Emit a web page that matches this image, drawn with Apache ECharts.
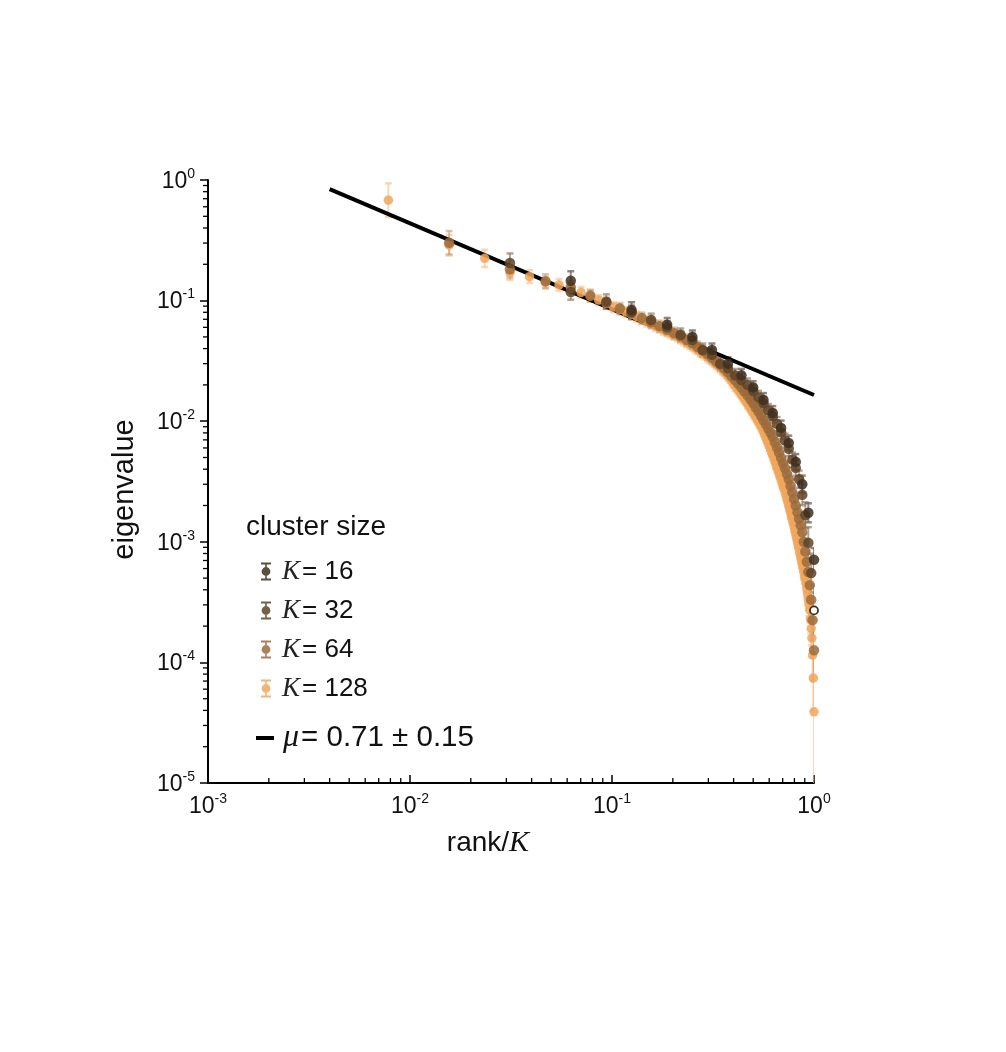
<!DOCTYPE html>
<html><head><meta charset="utf-8">
<script src="https://cdn.jsdelivr.net/npm/echarts@6/dist/echarts.min.js"></script>
<style>html,body{margin:0;padding:0;background:#fff}#c{width:1006px;height:1052px}</style>
</head><body><div id="c"></div>
<script>
// ---------------- data ----------------
// eigenvalues, ordered by rank (rank 1..K), x = rank/K
const K16 = [0.146, 0.0836, 0.063, 0.050, 0.039, 0.030, 0.024, 0.019, 0.015, 0.0117, 0.0088, 0.0066, 0.0046, 0.0030, 0.00174, 0.00071];
const K32 = [0.205, 0.118, 0.098, 0.080, 0.069, 0.060, 0.052, 0.047, 0.039, 0.0355, 0.030, 0.0275, 0.024, 0.0219, 0.020, 0.0178,
             0.0158, 0.0141, 0.0123, 0.0110, 0.0095, 0.0081, 0.0069, 0.0059, 0.0048, 0.0041, 0.0033, 0.00245, 0.00166, 0.00098, 0.00055, 0.00027];
const K64 = [0.302, 0.182, 0.145, 0.129, 0.110, 0.0955, 0.0861, 0.0785, 0.0716, 0.0661,
             0.0614, 0.0573, 0.0537, 0.0504, 0.0471, 0.0442, 0.0412, 0.0385, 0.0360, 0.0336,
             0.0313, 0.0292, 0.0273, 0.0254, 0.0236, 0.0219, 0.0204, 0.0190, 0.0176, 0.0164,
             0.0152, 0.0141, 0.0130, 0.0120, 0.0111, 0.0102, 0.00944, 0.00871, 0.00804, 0.00741,
             0.00670, 0.00605, 0.00550, 0.00495, 0.00447, 0.00407, 0.00367, 0.00331, 0.00292, 0.00257,
             0.00226, 0.00200, 0.00176, 0.00155, 0.00137, 0.00120, 0.00100, 0.000832, 0.000684, 0.000562,
             0.000437, 0.000331, 0.000224, 0.000126];
const K128 = [0.68, 0.288, 0.224, 0.170, 0.158, 0.141, 0.135, 0.126, 0.117, 0.109,
              0.101, 0.0944, 0.0883, 0.0843, 0.0805, 0.0769, 0.0736, 0.0703, 0.0671, 0.0641,
              0.0617, 0.0596, 0.0575, 0.0556, 0.0537, 0.0520, 0.0509, 0.0485, 0.0469, 0.0453,
              0.0438, 0.0423, 0.0408, 0.0394, 0.0377, 0.0368, 0.0356, 0.0344, 0.0332, 0.0321,
              0.0310, 0.0299, 0.0292, 0.0279, 0.0269, 0.0260, 0.0250, 0.0239, 0.0229, 0.0219,
              0.0209, 0.0197, 0.0191, 0.0183, 0.0175, 0.0167, 0.0160, 0.0153, 0.0149, 0.0140,
              0.0135, 0.0129, 0.0124, 0.0118, 0.01135, 0.01086, 0.01042, 0.00998, 0.00957, 0.00905,
              0.00873, 0.00824, 0.00780, 0.00736, 0.00695, 0.00664, 0.00621, 0.00587, 0.00555, 0.00524,
              0.00495, 0.00468, 0.00442, 0.00412, 0.00393, 0.00371, 0.00349, 0.00330, 0.00310, 0.00293,
              0.00277, 0.00265, 0.00244, 0.00229, 0.00214, 0.00200, 0.00187, 0.00176, 0.00161, 0.00154,
              0.00144, 0.00134, 0.00124, 0.00116, 0.00108, 0.00100, 0.000931, 0.000880, 0.000805, 0.000750,
              0.000698, 0.000650, 0.000604, 0.000562, 0.000517, 0.000488, 0.000453, 0.000409, 0.000370, 0.000333,
              0.000301, 0.000272, 0.000229, 0.000191, 0.000159, 0.000115, 0.0000741, 0.0000389];

// error bars: multiplicative spread (lower = v / f, upper = v * f)
const errK16 = [1.20, 1.16, 1.14, 1.13, 1.13, 1.13, 1.13, 1.13, 1.14, 1.14, 1.15, 1.15, 1.16, 1.18, 1.20, 1.25];
const errK32 = [1.20, 1.16, 1.15, 1.14, 1.13, 1.13, 1.13, 1.13, 1.13, 1.13, 1.13, 1.13, 1.13, 1.13, 1.13, 1.13,
                1.13, 1.13, 1.13, 1.13, 1.14, 1.14, 1.14, 1.15, 1.15, 1.16, 1.18, 1.22, 1.28, 1.35, 1.45, 1.60];
const errK64 = [1.25, 1.18, 1.14, 1.12, 1.12, 1.11, 1.11, 1.11, 1.11, 1.11, 1.11, 1.11, 1.11, 1.11, 1.11, 1.11,
                1.11, 1.11, 1.11, 1.11, 1.11, 1.11, 1.11, 1.11, 1.11, 1.11, 1.11, 1.11, 1.11, 1.11, 1.11, 1.11,
                1.11, 1.11, 1.11, 1.11, 1.11, 1.11, 1.11, 1.11, 1.11, 1.11, 1.11, 1.12, 1.12, 1.12, 1.12, 1.12,
                1.12, 1.12, 1.13, 1.13, 1.13, 1.14, 1.14, 1.15, 1.16, 1.18, 1.20, 1.23, 1.27, 1.33, 1.45, 1.8];
const errK128 = [1.38, 1.22, 1.18, 1.15, 1.13, 1.12, 1.12, 1.11, 1.11, 1.11, 1.10, 1.10, 1.10, 1.10, 1.10, 1.10,
                 1.10, 1.10, 1.10, 1.10, 1.10, 1.10, 1.10, 1.10, 1.10, 1.10, 1.10, 1.10, 1.10, 1.10, 1.10, 1.10,
                 1.10, 1.10, 1.10, 1.10, 1.10, 1.10, 1.10, 1.10, 1.10, 1.10, 1.10, 1.10, 1.10, 1.10, 1.10, 1.10,
                 1.10, 1.10, 1.10, 1.10, 1.10, 1.10, 1.10, 1.10, 1.10, 1.10, 1.10, 1.10, 1.10, 1.10, 1.10, 1.10,
                 1.10, 1.10, 1.10, 1.10, 1.10, 1.10, 1.10, 1.10, 1.10, 1.10, 1.10, 1.10, 1.10, 1.10, 1.10, 1.10,
                 1.10, 1.10, 1.10, 1.10, 1.10, 1.10, 1.10, 1.10, 1.11, 1.11, 1.11, 1.11, 1.11, 1.11, 1.11, 1.11,
                 1.11, 1.11, 1.11, 1.11, 1.12, 1.12, 1.12, 1.12, 1.12, 1.12, 1.12, 1.13, 1.13, 1.13, 1.13, 1.14,
                 1.14, 1.15, 1.15, 1.16, 1.17, 1.18, 1.20, 1.22, 1.25, 1.28, 1.32, 1.38, 1.45, 1.60, 1.85, 4.0];

// power-law fit, eigenvalue ~ (rank/K)^-mu, mu = 0.71
const fitX = [0.004, 1];
const fitY = [0.84, 0.0165];

const seriesNames = ['K = 16', 'K = 32', 'K = 64', 'K = 128'];
const clusterSizes = [16, 32, 64, 128];
const fitName = 'μ = 0.71 ± 0.15';

// axis ticks (decade exponents)
const xTickExp = [-3, -2, -1, 0];
const yTickExp = [-5, -4, -3, -2, -1, 0];

// ---------------- styling ----------------
const sans = '"Liberation Sans", Arial, Helvetica, sans-serif';
const serif = '"Liberation Serif", "Times New Roman", serif';
const markerColors = ['#3f2f1f', '#5f4327', '#9c6b3b', '#f0a65c'];
const errColors = ['rgba(110,98,86,0.75)', 'rgba(140,118,96,0.65)', 'rgba(190,150,110,0.55)', 'rgba(244,190,140,0.6)'];
const values = [K16, K32, K64, K128];
const errs = [errK16, errK32, errK64, errK128];

function minorList(lo, hi) {
  const out = [];
  for (let e = lo; e < hi; e++) for (let m = 2; m <= 9; m++) out.push(m * Math.pow(10, e));
  return out;
}
const xMinor = minorList(xTickExp[0], xTickExp[xTickExp.length - 1]);
const yMinor = minorList(yTickExp[0], yTickExp[yTickExp.length - 1]);
const xMin = Math.pow(10, xTickExp[0]), xMax = Math.pow(10, xTickExp[xTickExp.length - 1]);
const yMin = Math.pow(10, yTickExp[0]), yMax = Math.pow(10, yTickExp[yTickExp.length - 1]);

function errRender(color) {
  return function (params, api) {
    const x = api.value(0), lo = api.value(1), hi = api.value(2);
    const p1 = api.coord([x, hi]), p2 = api.coord([x, lo]);
    const w = 3.5;
    return {
      type: 'group',
      children: [
        { type: 'line', shape: { x1: p1[0], y1: p1[1], x2: p2[0], y2: p2[1] }, style: { stroke: color, lineWidth: 2 } },
        { type: 'line', shape: { x1: p1[0] - w, y1: p1[1], x2: p1[0] + w, y2: p1[1] }, style: { stroke: color, lineWidth: 2.5 } },
        { type: 'line', shape: { x1: p2[0] - w, y1: p2[1], x2: p2[0] + w, y2: p2[1] }, style: { stroke: color, lineWidth: 2.5 } }
      ]
    };
  };
}

const series = [];
const drawOrder = [3, 2, 1, 0]; // K=128 first, K=16 last (on top)
drawOrder.forEach(function (s, idx) {
  const K = clusterSizes[s];
  const v = values[s], f = errs[s];
  series.push({
    type: 'custom',
    name: seriesNames[s] + ' err',
    renderItem: errRender(errColors[s]),
    clip: true,
    encode: { x: 0, y: [1, 2] },
    data: v.map(function (val, i) { return [(i + 1) / K, val / f[i], val * f[i]]; }),
    z: 2,
    silent: true
  });
  series.push({
    type: 'scatter',
    name: seriesNames[s],
    symbol: 'circle',
    symbolSize: s === 3 ? 9.5 : 10.5,
    itemStyle: { color: markerColors[s], opacity: 0.85 },
    data: v.map(function (val, i) {
      if (s === 1 && i === v.length - 1) {
        return { value: [(i + 1) / K, val], itemStyle: { color: '#ffffff', borderColor: '#3f2f1f', borderWidth: 1.8, opacity: 1 }, symbolSize: 8 };
      }
      return [(i + 1) / K, val];
    }),
    z: 3
  });
  if (idx === 1) {
    series.push({
      type: 'line',
      name: fitName,
      data: fitX.map(function (x, i) { return [x, fitY[i]]; }),
      symbol: 'none',
      lineStyle: { color: '#000', width: 4 },
      itemStyle: { color: '#000' },
      z: 3
    });
  }
});

// minor ticks (drawn through the axis scales)
series.push({
  type: 'custom', name: 'yMinorTicks', silent: true, clip: false,
  encode: { x: 0, y: 1 },
  data: yMinor.map(function (v) { return [xMin, v]; }),
  renderItem: function (params, api) {
    const p = api.coord([api.value(0), api.value(1)]);
    return { type: 'line', shape: { x1: p[0] - 5, y1: p[1], x2: p[0], y2: p[1] }, style: { stroke: '#000', lineWidth: 1.3 } };
  }, z: 5
});
series.push({
  type: 'custom', name: 'xMinorTicks', silent: true, clip: false,
  encode: { x: 0, y: 1 },
  data: xMinor.map(function (v) { return [v, yMin]; }),
  renderItem: function (params, api) {
    const p = api.coord([api.value(0), api.value(1)]);
    return { type: 'line', shape: { x1: p[0], y1: p[1], x2: p[0], y2: p[1] - 5 }, style: { stroke: '#000', lineWidth: 1.3 } };
  }, z: 5
});

function powLabel(val) {
  const e = Math.round(Math.log10(val));
  return '{b|10}{s|' + e + '}';
}
const tickRich = {
  b: { fontSize: 23, fontFamily: sans, color: '#111', lineHeight: 26, verticalAlign: 'bottom' },
  s: { fontSize: 14, fontFamily: sans, color: '#111', lineHeight: 14, verticalAlign: 'top' }
};

const legendIcon = 'path://M1,0H11V2H1Z M5.2,2H6.8V16H5.2Z M1,16H11V18H1Z M6,4.6A4.4,4.4 0 1 1 5.99,4.6Z';

const option = {
  backgroundColor: '#fff',
  animation: false,
  title: {
    text: 'cluster size', left: 241, top: 508,
    textStyle: { fontFamily: sans, fontSize: 28, fontWeight: 'normal', color: '#111' }
  },
  grid: { left: 208, right: 192, top: 180, bottom: 269, containLabel: false },
  xAxis: {
    type: 'log', logBase: 10, min: xMin, max: xMax,
    name: '{a|rank/}{k|K}', nameLocation: 'middle', nameGap: 45,
    nameTextStyle: {
      padding: [0, 46, 0, 0],
      rich: { a: { fontFamily: sans, fontSize: 28, color: '#111' }, k: { fontFamily: serif, fontStyle: 'italic', fontSize: 30, color: '#111' } }
    },
    axisLine: { show: true, lineStyle: { color: '#000', width: 2 } },
    axisTick: { show: true, inside: true, length: 8, lineStyle: { color: '#000', width: 1.5 } },
    axisLabel: { margin: 9, formatter: powLabel, rich: tickRich },
    splitLine: { show: false }
  },
  yAxis: {
    type: 'log', logBase: 10, min: yMin, max: yMax,
    name: 'eigenvalue', nameLocation: 'middle', nameGap: 69, nameRotate: 90,
    nameTextStyle: { fontFamily: sans, fontSize: 29, color: '#111', padding: [0, 16, 0, 0] },
    axisLine: { show: true, onZero: false, lineStyle: { color: '#000', width: 2 } },
    axisTick: { show: true, inside: false, length: 8, lineStyle: { color: '#000', width: 1.5 } },
    axisLabel: { margin: 13, formatter: powLabel, rich: tickRich },
    splitLine: { show: false }
  },
  legend: [
    {
      data: seriesNames, orient: 'vertical', left: 261, top: 558, padding: 0,
      itemWidth: 12, itemHeight: 18, itemGap: 12, selectedMode: false,
      icon: legendIcon,
      formatter: function (n) { return '{k|K}{t|' + n.slice(2) + '}'; },
      textStyle: {
        rich: {
          k: { fontFamily: serif, fontStyle: 'italic', fontSize: 27, color: '#222', lineHeight: 22, padding: [0, 2, 0, 5] },
          t: { fontFamily: sans, fontSize: 26, color: '#111', lineHeight: 22 }
        }
      }
    },
    {
      data: [fitName], orient: 'vertical', left: 256, top: 722, padding: 0,
      itemWidth: 18, itemHeight: 4, selectedMode: false, icon: 'rect',
      formatter: function () { return '{m|μ}{t|= 0.71 ± 0.15}'; },
      textStyle: {
        rich: {
          m: { fontFamily: serif, fontStyle: 'italic', fontSize: 32, color: '#111', lineHeight: 26, padding: [0, 2, 0, 4] },
          t: { fontFamily: sans, fontSize: 29.5, color: '#111', lineHeight: 26 }
        }
      }
    }
  ],
  series: series
};

const chart = echarts.init(document.getElementById('c'), null, { renderer: 'canvas' });
chart.setOption(option);
</script>
</body></html>
